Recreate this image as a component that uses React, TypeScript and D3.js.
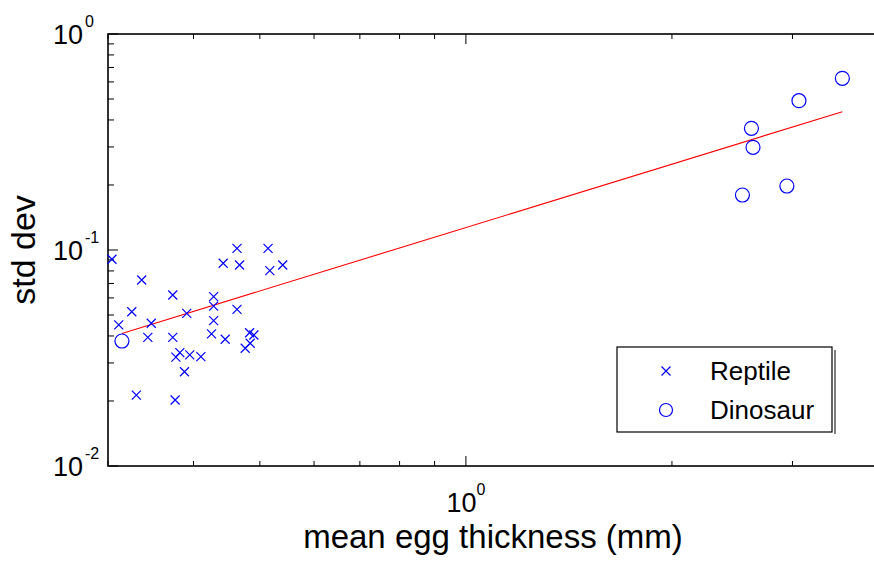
import { useEffect, useRef } from "react";
import * as d3 from "d3";

// mean egg thickness (mm) and std dev
const reptileThickness = [
  0.304, 0.336, 0.463, 0.514, 0.442, 0.467, 0.517, 0.54, 0.373, 0.428, 0.428,
  0.325, 0.391, 0.463, 0.311, 0.347, 0.428, 0.343, 0.373, 0.425, 0.445, 0.483,
  0.49, 0.484, 0.476, 0.382, 0.377, 0.395, 0.41, 0.388, 0.33, 0.376,
];
const reptileStd = [
  0.0906, 0.0726, 0.1018, 0.1018, 0.0868, 0.0852, 0.0802, 0.0852, 0.0619,
  0.0608, 0.055, 0.0518, 0.0509, 0.0531, 0.045, 0.0458, 0.0471, 0.0394, 0.0394,
  0.0409, 0.0386, 0.0414, 0.0404, 0.037, 0.0351, 0.0335, 0.0319, 0.0327,
  0.0321, 0.0273, 0.0213, 0.0202,
];
const dinoThickness = [3.548, 3.066, 2.613, 2.627, 2.944, 2.535, 0.3144];
const dinoStd = [0.6236, 0.4912, 0.366, 0.2988, 0.1978, 0.1797, 0.0379];

// fitted power-law line (end points)
const fitThickness = [0.3144, 3.548];
const fitStd = [0.0411, 0.4367];

const xDomain = [0.3, 4];
const yDomain = [0.01, 1];
const xLabelTicks = [1];
const yLabelTicks = [0.01, 0.1, 1];
const legendNames = ["Reptile", "Dinosaur"];

const W = 874;
const H = 562;
const margin = { top: 34, right: -4, bottom: 96, left: 108 };
const FONT = "'Liberation Sans', Arial, Helvetica, sans-serif";
const BLUE = "#0000ff";

export default function App() {
  const svgRef = useRef<SVGSVGElement | null>(null);

  useEffect(() => {
    document.body.style.margin = "0";
    if (!svgRef.current) return;
    const svg = d3.select(svgRef.current);
    svg.selectAll("*").remove();

    const x0 = margin.left;
    const x1 = W - margin.right;
    const y0 = margin.top;
    const y1 = H - margin.bottom;

    const x = d3.scaleLog().domain(xDomain).range([x0, x1]);
    const y = d3.scaleLog().domain(yDomain).range([y1, y0]);

    svg.append("rect").attr("width", W).attr("height", H).attr("fill", "#fff");

    const isMajor = (v: number) =>
      Math.abs(Math.log10(v) - Math.round(Math.log10(v))) < 1e-6;

    // ticks, inward (the right side falls outside the window)
    const tickG = svg.append("g").attr("stroke", "#000").attr("stroke-width", 1);
    x.ticks().forEach((v) => {
      const len = isMajor(v) ? 10 : 5;
      const px = x(v);
      tickG.append("line").attr("x1", px).attr("x2", px).attr("y1", y1).attr("y2", y1 - len);
      tickG.append("line").attr("x1", px).attr("x2", px).attr("y1", y0).attr("y2", y0 + len);
    });
    y.ticks().forEach((v) => {
      const len = isMajor(v) ? 10 : 6;
      const py = y(v);
      tickG.append("line").attr("x1", x0).attr("x2", x0 + len).attr("y1", py).attr("y2", py);
    });

    // axes box
    svg
      .append("rect")
      .attr("x", x0)
      .attr("y", y0)
      .attr("width", x1 - x0)
      .attr("height", y1 - y0)
      .attr("fill", "none")
      .attr("stroke", "#000")
      .attr("stroke-width", 1.6);

    // tick labels 10^k
    const lab = svg.append("g").attr("font-family", FONT).attr("fill", "#000");
    xLabelTicks.forEach((v) => {
      const t = lab
        .append("text")
        .attr("x", x(v))
        .attr("y", y1 + 46)
        .attr("text-anchor", "middle")
        .attr("font-size", 27);
      t.append("tspan").text("10");
      t.append("tspan")
        .attr("font-size", 16)
        .attr("dy", -17)
        .text(String(Math.round(Math.log10(v))));
    });
    yLabelTicks.forEach((v) => {
      const py = y(v) + 10;
      lab
        .append("text")
        .attr("x", x0 - 25)
        .attr("y", py)
        .attr("text-anchor", "end")
        .attr("font-size", 27)
        .text("10");
      lab
        .append("text")
        .attr("x", x0 - 23)
        .attr("y", py - 17)
        .attr("font-size", 16)
        .text(String(Math.round(Math.log10(v))));
    });

    // axis titles
    lab
      .append("text")
      .attr("x", (x0 + x1) / 2)
      .attr("y", 548)
      .attr("text-anchor", "middle")
      .attr("font-size", 33)
      .text("mean egg thickness (mm)");
    lab
      .append("text")
      .attr("transform", `translate(35,${(y0 + y1) / 2}) rotate(-90)`)
      .attr("text-anchor", "middle")
      .attr("font-size", 34)
      .text("std dev");

    // fit line
    const line = d3
      .line<number>()
      .x((d) => x(d))
      .y((_, i) => y(fitStd[i]));
    svg
      .append("path")
      .attr("d", line(fitThickness))
      .attr("fill", "none")
      .attr("stroke", "#ff0000")
      .attr("stroke-width", 1.1);

    const cross = "M-4.5,-4.5L4.5,4.5M-4.5,4.5L4.5,-4.5";

    // reptiles
    svg
      .append("g")
      .selectAll("path")
      .data(reptileThickness)
      .join("path")
      .attr("transform", (d, i) => `translate(${x(d)},${y(reptileStd[i])})`)
      .attr("d", cross)
      .attr("fill", "none")
      .attr("stroke", BLUE)
      .attr("stroke-width", 1.2);

    // dinosaurs
    svg
      .append("g")
      .selectAll("circle")
      .data(dinoThickness)
      .join("circle")
      .attr("cx", (d) => x(d))
      .attr("cy", (d, i) => y(dinoStd[i]))
      .attr("r", 7)
      .attr("fill", "none")
      .attr("stroke", BLUE)
      .attr("stroke-width", 1.2);

    // legend
    const lg = svg.append("g").attr("transform", "translate(617,347)");
    lg.append("line")
      .attr("x1", 218)
      .attr("x2", 218)
      .attr("y1", 3)
      .attr("y2", 87)
      .attr("stroke", "#000")
      .attr("stroke-width", 1);
    lg.append("rect")
      .attr("width", 215)
      .attr("height", 85)
      .attr("fill", "#fff")
      .attr("stroke", "#000")
      .attr("stroke-width", 1.2);
    legendNames.forEach((name, i) => {
      const cy = 24 + i * 39;
      if (i === 0) {
        lg.append("path")
          .attr("transform", `translate(49,${cy})`)
          .attr("d", cross)
          .attr("fill", "none")
          .attr("stroke", BLUE)
          .attr("stroke-width", 1.2);
      } else {
        lg.append("circle")
          .attr("cx", 49)
          .attr("cy", cy)
          .attr("r", 6.5)
          .attr("fill", "none")
          .attr("stroke", BLUE)
          .attr("stroke-width", 1.2);
      }
      lg.append("text")
        .attr("x", 93)
        .attr("y", cy + 9)
        .attr("font-family", FONT)
        .attr("font-size", 26)
        .attr("fill", "#000")
        .text(name);
    });
  }, []);

  return (
    <svg
      ref={svgRef}
      width={W}
      height={H}
      style={{ display: "block" }}
    ></svg>
  );
}
